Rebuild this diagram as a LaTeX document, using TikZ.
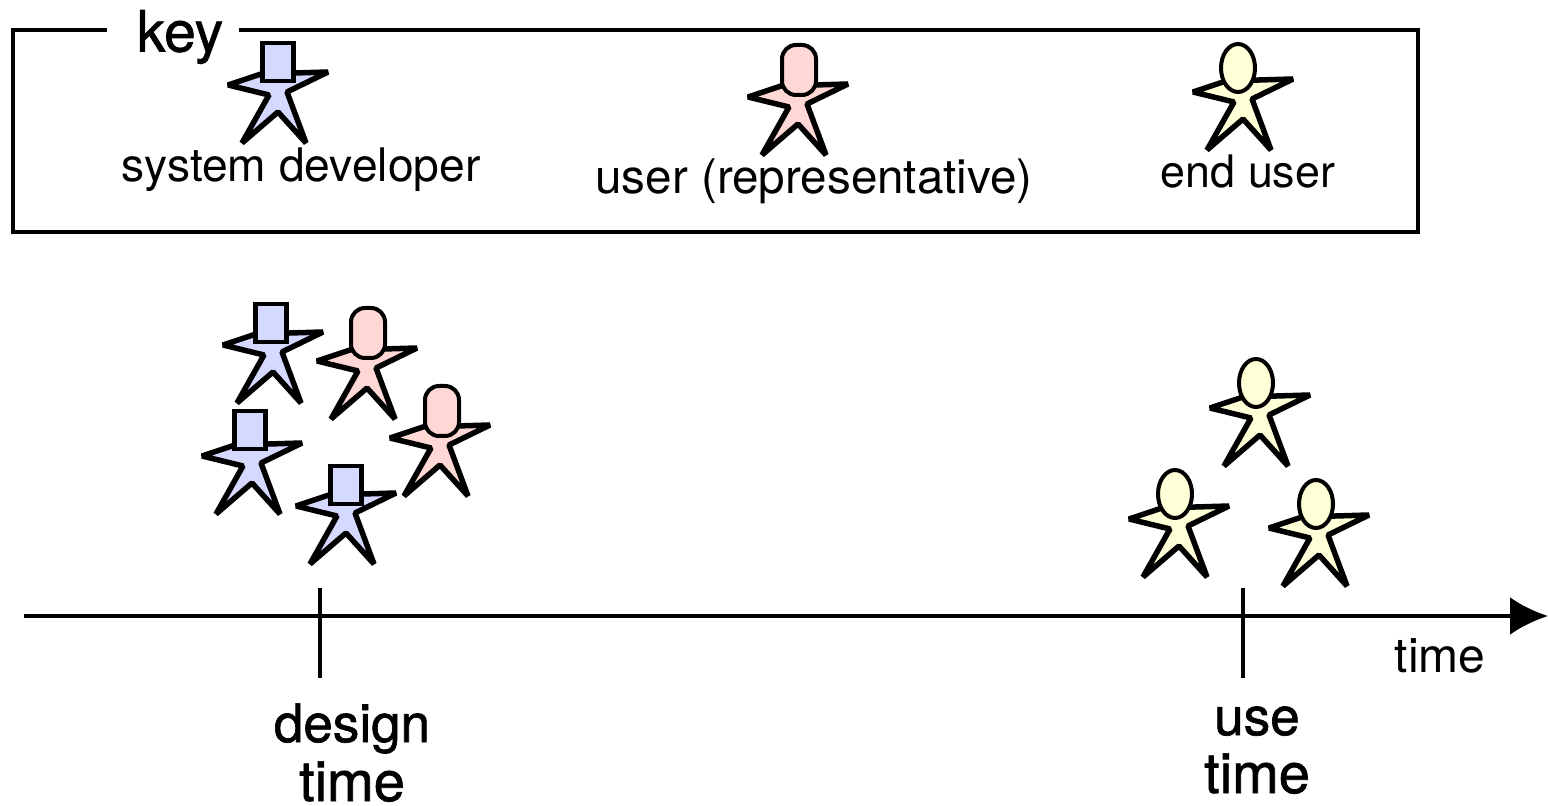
\documentclass[tikz,border=0pt]{standalone}
\usepackage{fontspec}
\setmainfont{TeX Gyre Heros}
\newfontfamily\heavyfont[FakeBold=1.2]{TeX Gyre Heros}
\usetikzlibrary{arrows.meta,shapes.geometric}
\definecolor{devblue}{RGB}{213,216,255}
\definecolor{reppink}{RGB}{255,216,213}
\definecolor{enduser}{RGB}{255,255,216}
\tikzset{
  pics/starbody/.style={code={
    \draw[line width=2.75pt,line join=bevel,fill=#1]
      (-50,-27) -- (-17,-38) -- (50,-40) -- (9,-20) -- (28,31)
      -- (0,0) -- (-36,31) -- (-9,-17) -- cycle;
  }},
  devhead/.style={draw,line width=2.25pt,fill=devblue,inner sep=0pt,minimum width=15.5pt,minimum height=19pt},
  rephead/.style={draw,line width=2pt,fill=reppink,inner sep=0pt,rounded corners=7pt,minimum width=17pt,minimum height=25pt},
  endhead/.style={draw,ellipse,line width=2pt,fill=enduser,inner sep=0pt,minimum width=17pt,minimum height=24pt},
  axisline/.style={line width=2pt},
  biglabel/.style={font=\heavyfont\fontsize{26.5}{29}\selectfont,inner sep=0pt,anchor=base},
  timeword/.style={font=\heavyfont\fontsize{28}{30}\selectfont,inner sep=0pt,anchor=base},
}
\begin{document}
\begin{tikzpicture}[x=0.5pt,y=-0.5pt]
  \useasboundingbox (0,0) rectangle (1548,806);
  % key
  \node[draw,line width=2.25pt,inner sep=0pt,minimum width=702.5pt,minimum height=101pt] (keybox) at (715.5,131) {};
  \node[font=\heavyfont\fontsize{28.5}{30}\selectfont,fill=white,inner xsep=7.75pt,inner ysep=0pt] (keylabel) at (173,37) {\hspace*{7pt}key};

  \pic at (278,112) {starbody=devblue};
  \node[devhead] (keydevhead) at (278,62) {};
  \node[font=\fontsize{23.1}{27}\selectfont,inner sep=0pt] (keydev) at (301,170) {system developer};

  \pic at (798,124) {starbody=reppink};
  \node[rephead] (keyrephead) at (799,70) {};
  \node[font=\fontsize{23.8}{28}\selectfont,inner sep=0pt] (keyrep) at (814,181) {user (representative)};

  \pic at (1243,119) {starbody=enduser};
  \node[endhead] (keyendhead) at (1238,68) {};
  \node[font=\fontsize{22.4}{26}\selectfont,inner sep=0pt] (keyend) at (1248,172) {end user};

  % design time group
  \pic at (273,372) {starbody=devblue};
  \node[devhead] (devhead1) at (271,323) {};
  \pic at (367,388) {starbody=reppink};
  \node[rephead] (rephead1) at (368,333) {};
  \pic at (440,465) {starbody=reppink};
  \node[rephead] (rephead2) at (442,411) {};
  \pic at (252,483) {starbody=devblue};
  \node[devhead] (devhead2) at (250,430) {};
  \pic at (346,533) {starbody=devblue};
  \node[devhead] (devhead3) at (346,485) {};

  % use time group
  \pic at (1260,435) {starbody=enduser};
  \node[endhead] (endhead1) at (1256,383) {};
  \pic at (1179,546) {starbody=enduser};
  \node[endhead] (endhead2) at (1175,494) {};
  \pic at (1319,555) {starbody=enduser};
  \node[endhead] (endhead3) at (1316,504) {};

  % time axis
  \coordinate (axisstart) at (24,616);
  \coordinate (axisend) at (1548,616);
  \coordinate (designtop) at (320,588);
  \coordinate (designbot) at (320,678);
  \coordinate (usetop) at (1243,588);
  \coordinate (usebot) at (1243,678);
  \draw[axisline,-{Latex[length=19pt,width=19pt]}] (axisstart) -- (axisend);
  \draw[axisline] (designtop) -- (designbot);
  \draw[axisline] (usetop) -- (usebot);

  \node[font=\fontsize{24}{26}\selectfont,inner sep=0pt] (timelabel) at (1440,656) {time};
  \node[biglabel] (designlabel) at (352,742) {design};
  \node[timeword] (designtime) at (352,801) {time};
  \node[biglabel] (uselabel) at (1257,735) {use};
  \node[timeword] (usetime) at (1257,793) {time};
\end{tikzpicture}
\end{document}
